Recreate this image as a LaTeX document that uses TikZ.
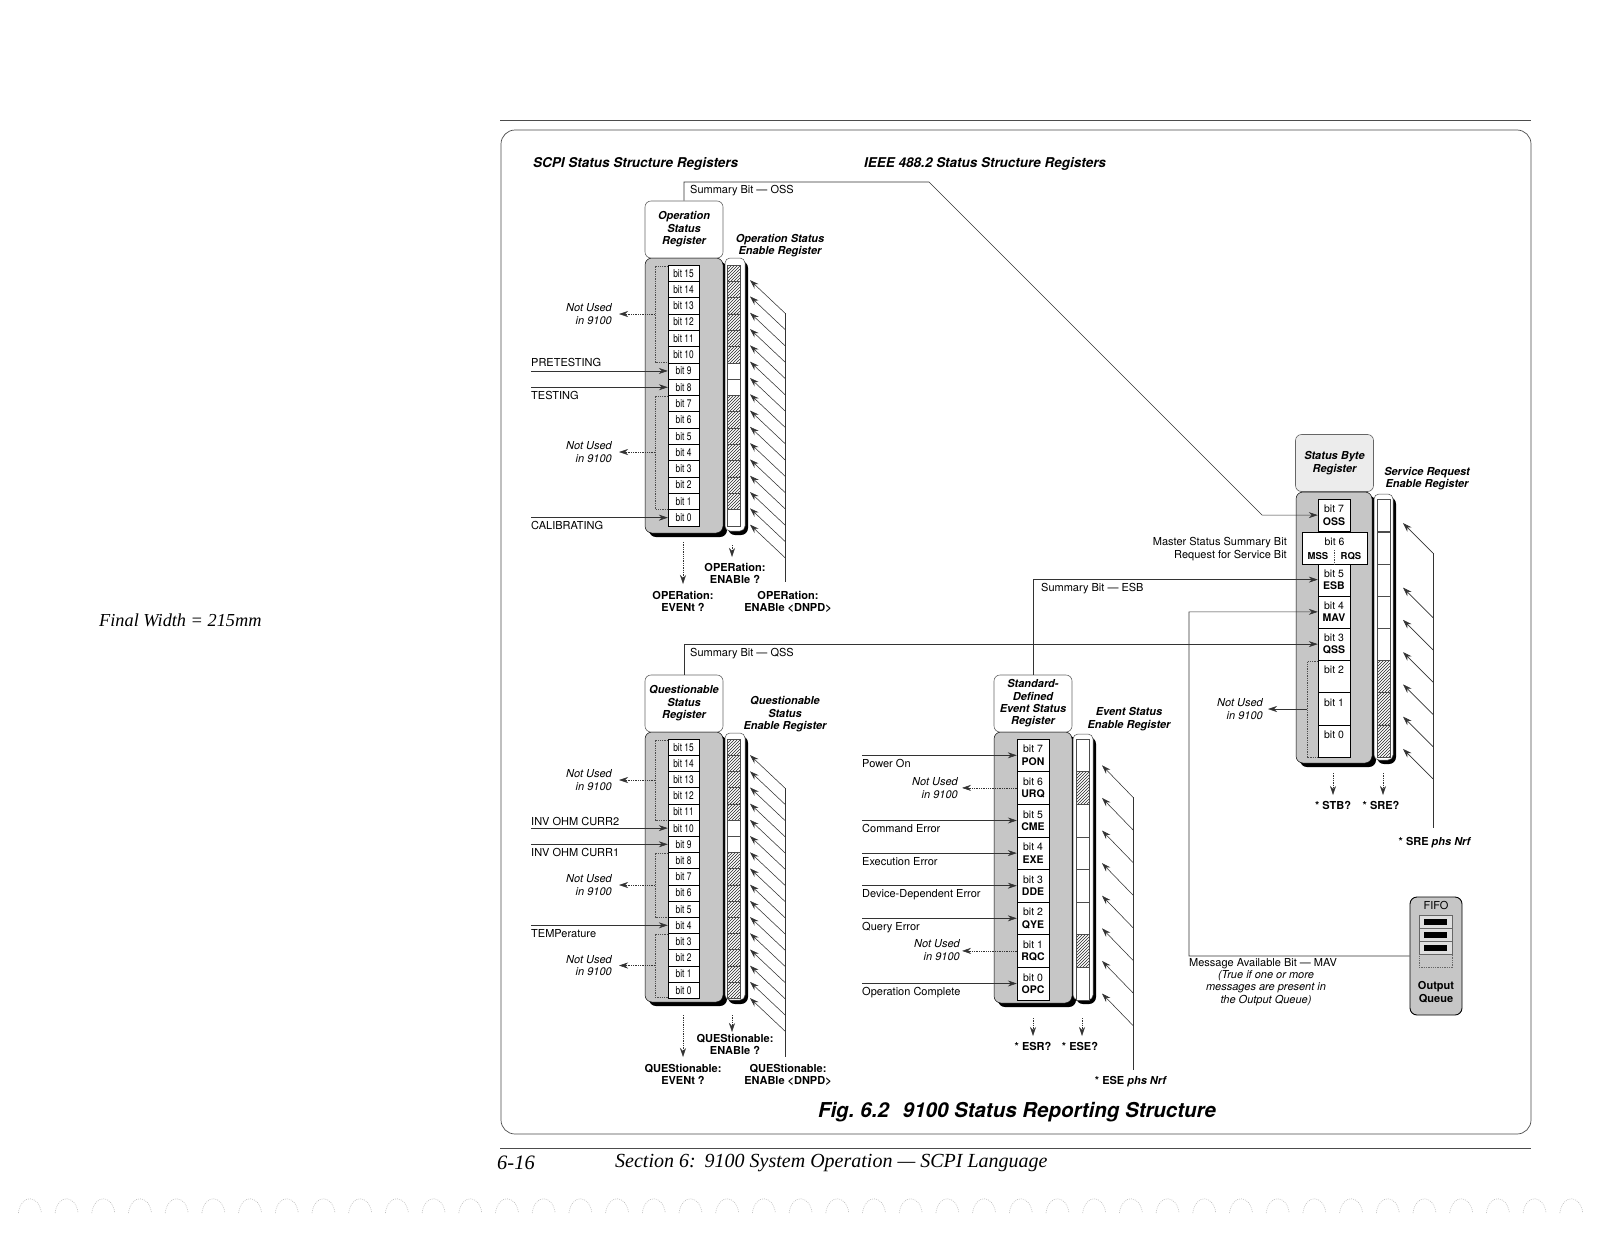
\documentclass[tikz,border=0pt]{standalone}
\usepackage{fontspec}
\setmainfont{TeX Gyre Heros}
\newfontfamily\condfont[FakeStretch=0.76]{TeX Gyre Heros}
\newfontfamily\pageserif{Liberation Serif}
\usetikzlibrary{arrows.meta,patterns}
\newcommand\fsLab{\fontsize{11}{12.5}\selectfont}
\newcommand\fsBitc{\condfont\fontsize{11}{12}\selectfont}
\newcommand\fsBit{\fontsize{10.5}{12.5}\selectfont}
\newcommand\fsHdr{\fontsize{11}{12.4}\selectfont\bfseries\itshape}
\newcommand\fsTitle{\fontsize{13.5}{15}\selectfont\bfseries\itshape}
\tikzset{
 ln/.style={draw=black!80, line width=0.55pt},
 arr/.style={ln, -{Stealth[length=9pt,width=6pt,inset=3pt]}},
 dotarr/.style={arr, dash pattern=on 1.3pt off 1pt},
 brk/.style={draw=black!70, line width=0.5pt, dash pattern=on 1.3pt off 1pt},
 hdr/.style={draw=black!60, line width=0.6pt, fill=white, rounded corners=6pt, minimum width=78pt, minimum height=57pt, inner sep=0pt, align=center, font=\fsHdr},
 bitc/.style={draw=black, line width=0.45pt, fill=white, minimum width=31pt, inner sep=0pt, align=center},
 ecw/.style={draw=black!70, line width=0.45pt, fill=white, minimum width=13pt, inner sep=0pt},
 ech/.style={ecw, pattern=north east lines, pattern color=black!85},
 bodyfill/.style={fill=gray!45, draw=black, line width=0.5pt, rounded corners=7pt},
 shad/.style={fill=black, rounded corners=7pt},
 ecol/.style={fill=white, draw=black!70, line width=0.5pt, rounded corners=5pt},
 lab/.style={font=\fsLab, inner sep=0pt},
 nu/.style={font=\fsLab\itshape, inner sep=0pt, align=right, anchor=east},
 cmd/.style={font=\fsLab\bfseries, align=center, inner sep=0pt},
 elab/.style={font=\fsHdr, align=center, inner sep=0pt},
}
\begin{document}
\begin{tikzpicture}[x=1pt,y=-1pt]
\fill[white] (0,0) rectangle (1600,1237);
\useasboundingbox (0,0) rectangle (1600,1237);

% page furniture
\draw[black!70, line width=0.6pt] (500,120) -- (1531,120);
\draw[black!70, line width=0.6pt] (500,1148) -- (1531,1148);
\draw[black!70, line width=0.7pt, rounded corners=14pt] (501,130) rectangle (1531,1134);
\node[anchor=west, inner sep=0pt, font=\pageserif\itshape\fontsize{18.3}{20}\selectfont] (fw) at (99,620) {Final Width = 215mm};
\node[anchor=west, inner sep=0pt, font=\pageserif\itshape\fontsize{20.5}{22}\selectfont] (pg) at (497,1163) {6-16};
\node[anchor=west, inner sep=0pt, font=\pageserif\itshape\fontsize{20}{22}\selectfont] (sec) at (615,1163) {Section 6:\hspace{9pt}9100 System Operation — SCPI Language};
\foreach \k in {-14,...,28}{
  \pgfmathsetmacro\xa{543.7+\k*36.7}
  \draw[gray!55, line width=0.6pt, dash pattern=on 0.8pt off 1.2pt] (\xa-11.5,1213) .. controls (\xa-9,1194) and (\xa+9,1194) .. (\xa+11.5,1213);
}

% titles
\node[anchor=west, font=\fsTitle, inner sep=0pt] (t1) at (533,164) {SCPI Status Structure Registers};
\node[anchor=west, font=\fsTitle, inner sep=0pt] (t2) at (864,164) {IEEE 488.2 Status Structure Registers};
\node[font=\fontsize{20.5}{22}\selectfont\bfseries\itshape, inner sep=0pt] (cap) at (1017,1112) {Fig.\hspace{6pt}6.2\hspace{14pt}9100 Status Reporting Structure};

% ================= Operation Status Register
\fill[shad] (649,262) rectangle (727,537);
\path[bodyfill] (645,258) rectangle (723,533);
\fill[shad] (728,261) rectangle (748,535);
\path[ecol] (725,258) rectangle (745,531);
\node[hdr] (oph) at (684,229.5) {Operation\\Status\\Register};
\node[elab] (opel) at (780,245.5) {Operation Status\\Enable Register};
\draw[brk] (668,266) -- (655,266) -- (655,362) -- (668,362);
\draw[brk] (668,396) -- (655,396) -- (655,509) -- (668,509);
\foreach \k/\h in {15/1,14/1,13/1,12/1,11/1,10/1,9/0,8/0,7/1,6/1,5/1,4/1,3/1,2/1,1/1,0/0}{
  \pgfmathsetmacro\yc{265+(15-\k)*16.3+8.15}
  \node[bitc, minimum height=16.3pt, font=\fsBitc] (op\k) at (683.5,\yc) {bit \k};
  \ifnum\h=1 \node[ech, minimum height=16.3pt] (ope\k) at (733.5,\yc) {};
  \else \node[ecw, minimum height=16.3pt] (ope\k) at (733.5,\yc) {};\fi
  \coordinate (opd\k) at (785,\yc+40);
  \coordinate (opt\k) at (750,\yc+7);
  \draw[arr] (opd\k) -- (opt\k);
}
\coordinate (opvb) at (785,582);
\draw[ln] (opd15) -- (opvb);
\node[nu] (opn1) at (612,314) {Not Used\\in 9100};
\coordinate (opb1) at (655,314);
\draw[dotarr, shorten >=7pt] (opb1) -- (opb1 -| opn1.east);
\node[nu] (opn2) at (612,452) {Not Used\\in 9100};
\coordinate (opb2) at (655,452);
\draw[dotarr, shorten >=7pt] (opb2) -- (opb2 -| opn2.east);
\node[lab, anchor=south west] (pret) at (531,367) {PRETESTING};
\draw[arr] (pret.south west |- op9.west) -- (op9.west);
\node[lab, anchor=north west] (tst) at (531,391) {TESTING};
\draw[arr] (tst.north west |- op8.west) -- (op8.west);
\node[lab, anchor=north west] (cal) at (531,521) {CALIBRATING};
\draw[arr] (cal.north west |- op0.west) -- (op0.west);
\node[cmd, anchor=north] (opev) at (683,591) {OPERation:\\EVENt ?};
\node[cmd, anchor=north] (open) at (735,563) {OPERation:\\ENABle ?};
\node[cmd, anchor=north] (opdn) at (788,591) {OPERation:\\ENABle <DNPD>};
\coordinate (opq1) at (683,542);
\coordinate (opq2) at (732,545);
\draw[dotarr, shorten >=7pt] (opq1) -- (opev.north -| opq1);
\draw[dotarr, shorten >=6pt] (opq2) -- (open.north -| opq2);

% ================= Questionable Status Register
\fill[shad] (649,736) rectangle (727,1006);
\path[bodyfill] (645,732) rectangle (723,1002);
\fill[shad] (728,736) rectangle (748,1004);
\path[ecol] (725,733) rectangle (745,1000);
\node[hdr] (qsh) at (684,703.5) {Questionable\\Status\\Register};
\node[elab] (qsel) at (785,714.5) {Questionable\\Status\\Enable Register};
\draw[brk] (668,740) -- (655,740) -- (655,820) -- (668,820);
\draw[brk] (668,853) -- (655,853) -- (655,917) -- (668,917);
\draw[brk] (668,934) -- (655,934) -- (655,997) -- (668,997);
\foreach \k/\h in {15/1,14/1,13/1,12/1,11/1,10/0,9/0,8/1,7/1,6/1,5/1,4/1,3/1,2/1,1/1,0/1}{
  \pgfmathsetmacro\yc{739+(15-\k)*16.2+8.1}
  \node[bitc, minimum height=16.2pt, font=\fsBitc] (q\k) at (683.5,\yc) {bit \k};
  \ifnum\h=1 \node[ech, minimum height=16.2pt] (qe\k) at (733.5,\yc) {};
  \else \node[ecw, minimum height=16.2pt] (qe\k) at (733.5,\yc) {};\fi
  \coordinate (qd\k) at (785,\yc+41);
  \coordinate (qt\k) at (750,\yc+8);
  \draw[arr] (qd\k) -- (qt\k);
}
\coordinate (qvb) at (785,1057);
\draw[ln] (qd15) -- (qvb);
\node[nu] (qn1) at (612,780) {Not Used\\in 9100};
\coordinate (qb1) at (655,780);
\draw[dotarr, shorten >=7pt] (qb1) -- (qb1 -| qn1.east);
\node[nu] (qn2) at (612,885) {Not Used\\in 9100};
\coordinate (qb2) at (655,885);
\draw[dotarr, shorten >=7pt] (qb2) -- (qb2 -| qn2.east);
\node[nu] (qn3) at (612,965.5) {Not Used\\in 9100};
\coordinate (qb3) at (655,965.5);
\draw[dotarr, shorten >=7pt] (qb3) -- (qb3 -| qn3.east);
\node[lab, anchor=south west] (cur2) at (531,825.5) {INV OHM CURR2};
\draw[arr] (cur2.south west |- q10.west) -- (q10.west);
\node[lab, anchor=north west] (cur1) at (531,848) {INV OHM CURR1};
\draw[arr] (cur1.north west |- q9.west) -- (q9.west);
\node[lab, anchor=north west] (temp) at (531,929) {TEMPerature};
\draw[arr] (temp.north west |- q4.west) -- (q4.west);
\node[cmd, anchor=north] (qev) at (683,1064) {QUEStionable:\\EVENt ?};
\node[cmd, anchor=north] (qen) at (735,1034) {QUEStionable:\\ENABle ?};
\node[cmd, anchor=north] (qdn) at (788,1064) {QUEStionable:\\ENABle <DNPD>};
\coordinate (qq1) at (683,1015);
\coordinate (qq2) at (732,1015);
\draw[dotarr, shorten >=7pt] (qq1) -- (qev.north -| qq1);
\draw[dotarr, shorten >=2pt] (qq2) -- (qen.north -| qq2);

% ================= Standard Event Status Register
\fill[shad] (998,736) rectangle (1076,1007);
\path[bodyfill] (994,732) rectangle (1072,1003);
\fill[shad] (1076,737) rectangle (1096,1004);
\path[ecol] (1073,734) rectangle (1093,1000);
\node[hdr] (evh) at (1033,703.5) {Standard-\\Defined\\Event Status\\Register};
\node[elab] (evel) at (1129,719) {Event Status\\Enable Register};
\foreach \k/\m/\h in {7/PON/0,6/URQ/1,5/CME/0,4/EXE/0,3/DDE/0,2/QYE/0,1/RQC/1,0/OPC/0}{
  \pgfmathsetmacro\yc{739+(7-\k)*32.6+16.3}
  \node[bitc, minimum width=32pt, minimum height=32.6pt, font=\fsBit] (ev\k) at (1033,\yc) {bit \k\\\textbf{\m}};
  \ifnum\h=1 \node[ech, minimum height=32.6pt] (eve\k) at (1082.5,\yc) {};
  \else \node[ecw, minimum height=32.6pt] (eve\k) at (1082.5,\yc) {};\fi
  \coordinate (evd\k) at (1133,\yc+42);
  \coordinate (evt\k) at (1102,\yc+10);
  \draw[arr] (evd\k) -- (evt\k);
}
\coordinate (evvb) at (1133,1070);
\draw[ln] (evd7) -- (evvb);
\foreach \k/\t in {7/Power On,5/Command Error,4/Execution Error,3/Device-Dependent Error,2/Query Error,0/Operation Complete}{
  \pgfmathsetmacro\yc{739+(7-\k)*32.6+16.3}
  \coordinate (evs\k) at (862,\yc);
  \node[lab, anchor=north west] (evin\k) at (862,\yc+4) {\t};
  \draw[arr] (evs\k) -- (ev\k.west);
}
\node[nu] (evn6) at (958,788) {Not Used\\in 9100};
\draw[dotarr, shorten >=4pt] (ev6.west) -- (ev6.west -| evn6.east);
\node[nu] (evn1) at (960,950) {Not Used\\in 9100};
\draw[dotarr, shorten >=2pt] (ev1.west) -- (ev1.west -| evn1.east);
\node[cmd, anchor=north] (esr) at (1033,1042) {* ESR?};
\node[cmd, anchor=north] (ese) at (1080,1042) {* ESE?};
\node[cmd, anchor=north] (esen) at (1131,1076) {* ESE \textit{phs Nrf}};
\coordinate (evq1) at (1033,1018);
\coordinate (evq2) at (1082,1018);
\draw[dotarr, shorten >=6pt] (evq1) -- (esr.north -| evq1);
\draw[dotarr, shorten >=6pt] (evq2) -- (ese.north -| evq2);

% ================= Status Byte Register
\fill[shad] (1300,496) rectangle (1376,767);
\path[bodyfill] (1296,492) rectangle (1372,763);
\fill[shad] (1377,497) rectangle (1396,764);
\path[ecol] (1374,494) rectangle (1393,760);
\node[hdr, fill=gray!15] (sbh) at (1334.5,463) {Status Byte\\Register};
\node[elab] (srel) at (1427,478.5) {Service Request\\Enable Register};
\draw[brk] (1318,661) -- (1307,661) -- (1307,757) -- (1318,757);
\foreach \k/\m/\h in {7/OSS/0,5/ESB/0,4/MAV/0,3/QSS/0,2/\phantom{X}/1,1/\phantom{X}/1,0/\phantom{X}/1}{
  \pgfmathsetmacro\yc{499+(7-\k)*32.25+16.125}
  \node[bitc, minimum width=32pt, minimum height=32.25pt, font=\fsBit] (sb\k) at (1334,\yc) {bit \k\\\textbf{\m}};
  \ifnum\h=1 \node[ech, minimum height=32.25pt] (sbe\k) at (1383.5,\yc) {};
  \else \node[ecw, minimum height=32.25pt] (sbe\k) at (1383.5,\yc) {};\fi
  \coordinate (sbd\k) at (1433,\yc+38);
  \coordinate (sbt\k) at (1403,\yc+8);
  \draw[arr] (sbd\k) -- (sbt\k);
}
\node[bitc, minimum width=65pt, minimum height=32.25pt] (sb6) at (1334.5,548.4) {};
\node[ecw, minimum height=32.25pt] (sbe6) at (1383.5,548.4) {};
\node[font=\fsBit, inner sep=0pt] (sb6t) at (1334.5,542) {bit 6};
\node[font=\fontsize{9.5}{11}\selectfont\bfseries, inner sep=0pt] (sb6m) at (1318,556) {MSS};
\node[font=\fontsize{9.5}{11}\selectfont\bfseries, inner sep=0pt] (sb6r) at (1351,556) {RQS};
\draw[brk] (1334.5,550) -- (1334.5,564);
\node[lab, anchor=east, align=right] (mss) at (1287,549) {Master Status Summary Bit\\Request for Service Bit};
\coordinate (sbvb) at (1433,828);
\draw[ln] (sbd7) -- (sbvb);
\node[nu] (sbn) at (1263,709) {Not Used\\in 9100};
\coordinate (sbb) at (1307,709);
\draw[arr, shorten >=5pt] (sbb) -- (sbb -| sbn.east);
\node[cmd, anchor=north] (stb) at (1333,801) {* STB?};
\node[cmd, anchor=north] (sre) at (1381,801) {* SRE?};
\node[cmd, anchor=north] (sren) at (1435,837) {* SRE \textit{phs Nrf}};
\coordinate (sbq1) at (1333,773);
\coordinate (sbq2) at (1383,773);
\draw[dotarr, shorten >=6pt] (sbq1) -- (stb.north -| sbq1);
\draw[dotarr, shorten >=6pt] (sbq2) -- (sre.north -| sbq2);

% ================= Output Queue
\node[draw=black, line width=0.9pt, fill=gray!45, rounded corners=7pt, minimum width=52pt, minimum height=118pt, inner sep=0pt] (oq) at (1436,956) {};
\node[lab] (fifo) at (1436,905) {FIFO};
\foreach \i in {0,1,2}{
  \node[draw=black!60, line width=0.45pt, fill=gray!25, minimum width=33pt, minimum height=13pt, inner sep=0pt] (oqc\i) at (1435.5,921.5+\i*13) {};
  \fill[black] (1424,918.5+\i*13) rectangle (1447,924.5+\i*13);
}
\node[draw=black!60, line width=0.45pt, dash pattern=on 1.3pt off 1pt, minimum width=33pt, minimum height=13pt, inner sep=0pt] (oqc3) at (1435.5,960.5) {};
\node[cmd] (oql) at (1436,992) {Output\\Queue};

% ================= Summary connections
\coordinate (ossA) at (684,182);
\coordinate (ossB) at (929,182);
\coordinate (ossC) at (1262,515.1);
\draw[arr] (oph.north) -- (ossA) -- (ossB) -- (ossC) -- (sb7.west);
\node[lab, anchor=north west] (osst) at (690,185) {Summary Bit — OSS};
\draw[arr] (qsh.north) |- (sb3.west);
\node[lab, anchor=north west] (qsst) at (690,648) {Summary Bit — QSS};
\draw[arr] (evh.north) |- (sb5.west);
\node[lab, anchor=north west] (esbt) at (1041,583) {Summary Bit — ESB};
\coordinate (mavc) at (1189,611.9);
\draw[arr] (oq.west) -| (mavc) -- (sb4.west);
\node[lab, anchor=north west] (mavt) at (1189,958) {Message Available Bit — MAV};
\node[font=\fsLab\itshape, align=center, inner sep=0pt] (mavd) at (1266,988) {(True if one or more\\messages are present in\\the Output Queue)};
\end{tikzpicture}
\end{document}
